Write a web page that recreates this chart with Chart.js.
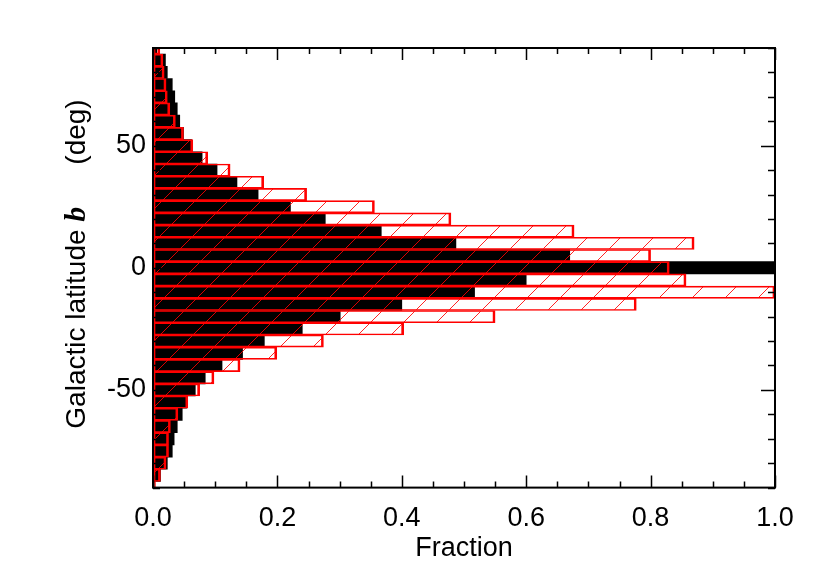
<!DOCTYPE html>
<html><head><meta charset="utf-8">
<script src="https://cdn.jsdelivr.net/npm/chart.js@4/dist/chart.umd.min.js"></script>
<style>html,body{margin:0;padding:0;background:#fff}#wrap{width:822px;height:587px}</style>
</head><body><div id="wrap"><canvas id="c" width="822" height="587"></canvas></div>
<script>
// Galactic latitude bin centres (deg)
const latitudes = [90,85,80,75,70,65,60,55,50,45,40,35,30,25,20,15,10,5,0,-5,-10,-15,-20,-25,-30,-35,-40,-45,-50,-55,-60,-65,-70,-75,-80,-85,-90];
// red hatched histogram
const redFraction = [0.011,0.016,0.018,0.021,0.023,0.027,0.036,0.049,0.064,0.088,0.124,0.178,0.247,0.356,0.479,0.677,0.870,0.800,0.830,0.857,1.000,0.777,0.550,0.403,0.274,0.199,0.140,0.098,0.075,0.056,0.040,0.028,0.025,0.025,0.021,0.012,0.004];
// black filled histogram
const blackFraction = [0.006,0.020,0.023,0.031,0.035,0.039,0.043,0.049,0.062,0.079,0.103,0.135,0.169,0.221,0.277,0.367,0.487,0.670,1.000,0.600,0.517,0.400,0.301,0.240,0.179,0.144,0.111,0.084,0.068,0.054,0.047,0.039,0.034,0.031,0.023,0.012,0.002];
const xTickLabels = [0.0,0.2,0.4,0.6,0.8,1.0];
const yTickLabels = [-50,0,50];

const FONT = '"Liberation Sans", Arial, Helvetica, sans-serif';

function makeHatch(){
  const s = 33;
  const c = document.createElement('canvas');
  c.width = s; c.height = s;
  const g = c.getContext('2d');
  g.strokeStyle = 'rgba(255,0,0,0.85)';
  g.lineWidth = 1;
  g.beginPath();
  g.moveTo(-2, s+2); g.lineTo(s+2, -2);
  g.moveTo(-2, 2); g.lineTo(2, -2);
  g.moveTo(s-2, s+2); g.lineTo(s+2, s-2);
  g.stroke();
  return g.createPattern(c, 'repeat');
}

const frameTicks = {
  id: 'frameTicks',
  afterDatasetsDraw(chart){
    const {ctx, chartArea: a, scales} = chart;
    const xs = scales.x, ys = scales.y;
    ctx.save();
    ctx.strokeStyle = '#000';
    ctx.lineWidth = 2;
    ctx.strokeRect(a.left, a.top, a.right - a.left, a.bottom - a.top);
    ctx.lineWidth = 1.5;
    ctx.beginPath();
    for (let i = 0; i <= 20; i++) {
      const v = i * 0.05;
      const px = Math.round(xs.getPixelForValue(v)) + 0.5;
      const len = (i % 4 === 0) ? 12 : 6;
      ctx.moveTo(px, a.bottom); ctx.lineTo(px, a.bottom - len);
      ctx.moveTo(px, a.top); ctx.lineTo(px, a.top + len);
    }
    for (let b = -90; b <= 90; b += 10) {
      const py = Math.round(ys.getPixelForValue(b)) + 0.5;
      const len = (b % 50 === 0) ? 14 : 7;
      ctx.moveTo(a.left, py); ctx.lineTo(a.left + len, py);
      ctx.moveTo(a.right, py); ctx.lineTo(a.right - len, py);
    }
    ctx.stroke();
    ctx.restore();
  },
  afterDraw(chart){
    const ctx = chart.ctx;
    const parts = [
      {t: 'Galactic latitude ', f: '28px ' + FONT},
      {t: 'b', f: 'bold italic 30px "Liberation Serif", "DejaVu Serif", serif'},
      {t: '\u2002\u2002\u2002(deg)', f: '28px ' + FONT}
    ];
    ctx.save();
    let total = 0;
    parts.forEach(p => { ctx.font = p.f; p.w = ctx.measureText(p.t).width; total += p.w; });
    ctx.translate(85, 264);
    ctx.rotate(-Math.PI / 2);
    ctx.textBaseline = 'alphabetic';
    ctx.textAlign = 'left';
    ctx.fillStyle = '#000';
    let x = -total / 2;
    parts.forEach(p => { ctx.font = p.f; ctx.fillText(p.t, x, 0); x += p.w; });
    ctx.restore();
  }
};

const redData = latitudes.map((b, i) => ({x: redFraction[i], y: b}));
const blackData = latitudes.map((b, i) => ({x: blackFraction[i], y: b}));

new Chart(document.getElementById('c'), {
  type: 'bar',
  data: {
    datasets: [
      {
        label: 'red',
        data: redData,
        backgroundColor: makeHatch(),
        borderColor: '#ff0000',
        borderWidth: {top: 1, bottom: 1, left: 2, right: 2},
        borderSkipped: false,
        grouped: false,
        barPercentage: 1,
        categoryPercentage: 1,
        clip: 0
      },
      {
        label: 'black',
        data: blackData,
        backgroundColor: '#000000',
        borderWidth: 0,
        grouped: false,
        barPercentage: 1,
        categoryPercentage: 1,
        clip: 0
      }
    ]
  },
  options: {
    indexAxis: 'y',
    responsive: false,
    animation: false,
    devicePixelRatio: 1,
    layout: {padding: {top: 48, right: 47, left: 0, bottom: 0}},
    plugins: {legend: {display: false}, tooltip: {enabled: false}},
    scales: {
      x: {
        type: 'linear',
        min: 0, max: 1,
        grid: {display: false, drawTicks: false},
        border: {display: false},
        afterFit: s => { s.height = 99.4; },
        afterBuildTicks: s => { s.ticks = xTickLabels.map(v => ({value: v})); },
        ticks: {
          color: '#000',
          padding: 15,
          maxRotation: 0,
          font: {family: FONT, size: 27},
          callback: v => Number(v).toFixed(1)
        },
        title: {
          display: true,
          text: 'Fraction',
          color: '#000',
          font: {family: FONT, size: 27},
          padding: {top: 0, bottom: 22}
        }
      },
      y: {
        type: 'linear',
        min: -90, max: 90,
        offset: false,
        grid: {display: false, drawTicks: false, offset: false},
        border: {display: false},
        afterFit: s => { s.width = 153; },
        afterBuildTicks: s => { s.ticks = yTickLabels.map(v => ({value: v})); },
        ticks: {
          color: '#000',
          padding: 7,
          font: {family: FONT, size: 27},
          callback: v => String(v)
        }
      }
    }
  },
  plugins: [frameTicks]
});
</script>
</body></html>
